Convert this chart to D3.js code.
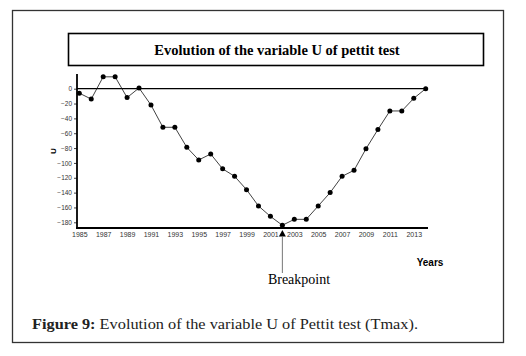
<!DOCTYPE html>
<html>
<head>
  <meta charset="utf-8">
  <title>Pettit test U</title>
  <script src="https://cdn.jsdelivr.net/npm/d3@7"></script>
  <style>
    body { margin: 0; background: #fff; }
  </style>
</head>
<body>
<script>
  // data
  var years = d3.range(1985, 2015);
  var uValues = [-6, -14, 16, 16, -12, 1, -22, -52, -52, -79,
                 -96, -88, -108, -118, -136, -158, -172, -184, -176, -176,
                 -158, -140, -118, -110, -81, -55, -30, -30, -13, 0];
  var yTicks = [0, -20, -40, -60, -80, -100, -120, -140, -160, -180];
  var xTicks = [1985, 1987, 1989, 1991, 1993, 1995, 1997, 1999, 2001, 2003, 2005, 2007, 2009, 2011, 2013];
  var breakYear = 2002;

  var width = 526, height = 356;
  var svg = d3.select("body").append("svg").attr("width", width).attr("height", height);

  // outer frame
  svg.append("rect")
    .attr("x", 12.5).attr("y", 10.5).attr("width", 491).attr("height", 332)
    .attr("fill", "none").attr("stroke", "#333").attr("stroke-width", 1.3);

  // title box
  svg.append("rect")
    .attr("x", 68.5).attr("y", 33.5).attr("width", 415).attr("height", 32)
    .attr("fill", "none").attr("stroke", "#000").attr("stroke-width", 1.6);
  svg.append("text")
    .attr("x", 277).attr("y", 55)
    .attr("text-anchor", "middle")
    .attr("font-family", "Liberation Serif, serif")
    .attr("font-weight", "bold").attr("font-size", "14.5px")
    .text("Evolution of the variable U of pettit test");

  // scales
  var xScale = d3.scaleLinear().domain([1985, 2014]).range([79.3, 425.7]);
  var yScale = d3.scaleLinear().domain([0, -180]).range([88.7, 222.3]);

  // zero reference line
  svg.append("line")
    .attr("x1", 77).attr("x2", xScale(2014))
    .attr("y1", yScale(0)).attr("y2", yScale(0))
    .attr("stroke", "#000").attr("stroke-width", 1.2);

  // y axis
  var gy = svg.append("g")
    .attr("transform", "translate(77,0)")
    .call(d3.axisLeft(yScale).tickValues(yTicks).tickSize(3).tickPadding(2));
  gy.select(".domain").remove();
  gy.selectAll("text").attr("font-family", "Liberation Sans, Arial, sans-serif")
    .attr("font-size", "6.5px").attr("fill", "#333");
  gy.selectAll("line").attr("stroke", "#444");
  svg.append("line").attr("x1", 77).attr("x2", 77).attr("y1", 74).attr("y2", 229)
    .attr("stroke", "#000").attr("stroke-width", 1.8);

  // x axis
  var gx = svg.append("g")
    .attr("transform", "translate(0,228)")
    .call(d3.axisBottom(xScale).tickValues(xTicks).tickFormat(d3.format("d")).tickSize(0).tickPadding(4));
  gx.select(".domain").remove();
  gx.selectAll("text").attr("font-family", "Liberation Sans, Arial, sans-serif")
    .attr("font-size", "7px").attr("fill", "#333");
  svg.append("line").attr("x1", 76).attr("x2", 428).attr("y1", 228).attr("y2", 228)
    .attr("stroke", "#000").attr("stroke-width", 1.8);

  // axis titles
  svg.append("text")
    .attr("transform", "translate(56,151) rotate(-90)")
    .attr("text-anchor", "middle")
    .attr("font-family", "Liberation Sans, Arial, sans-serif")
    .attr("font-weight", "bold").attr("font-size", "8px")
    .text("U");
  svg.append("text")
    .attr("x", 430).attr("y", 266)
    .attr("text-anchor", "middle")
    .attr("font-family", "Liberation Sans, Arial, sans-serif")
    .attr("font-weight", "bold").attr("font-size", "10px")
    .text("Years");

  // line and points
  var pts = years.map(function(y, i) { return [y, uValues[i]]; });
  svg.append("path")
    .datum(pts)
    .attr("fill", "none").attr("stroke", "#111").attr("stroke-width", 0.8)
    .attr("d", d3.line()
      .x(function(d) { return xScale(d[0]); })
      .y(function(d) { return yScale(d[1]); }));
  svg.selectAll("circle.pt")
    .data(pts).enter().append("circle")
    .attr("class", "pt")
    .attr("cx", function(d) { return xScale(d[0]); })
    .attr("cy", function(d) { return yScale(d[1]); })
    .attr("r", 2.5).attr("fill", "#000");

  // breakpoint marker
  var bx = xScale(breakYear);
  svg.append("path")
    .attr("d", "M" + bx + ",230 L" + (bx - 3.5) + ",236.5 L" + (bx + 3.5) + ",236.5 Z")
    .attr("fill", "#000");
  svg.append("line")
    .attr("x1", bx).attr("x2", bx).attr("y1", 236).attr("y2", 273)
    .attr("stroke", "#777").attr("stroke-width", 1);
  svg.append("text")
    .attr("x", 299).attr("y", 284)
    .attr("text-anchor", "middle")
    .attr("font-family", "Liberation Serif, serif")
    .attr("font-size", "14px")
    .text("Breakpoint");

  // caption
  var cap = svg.append("text")
    .attr("x", 32).attr("y", 329)
    .attr("font-family", "Liberation Serif, serif")
    .attr("font-size", "14.5px").attr("fill", "#222")
    .attr("textLength", 386).attr("lengthAdjust", "spacingAndGlyphs");
  cap.append("tspan").attr("font-weight", "bold").text("Figure 9:");
  cap.append("tspan").text(" Evolution of the variable U of Pettit test (Tmax).");
</script>
</body>
</html>
